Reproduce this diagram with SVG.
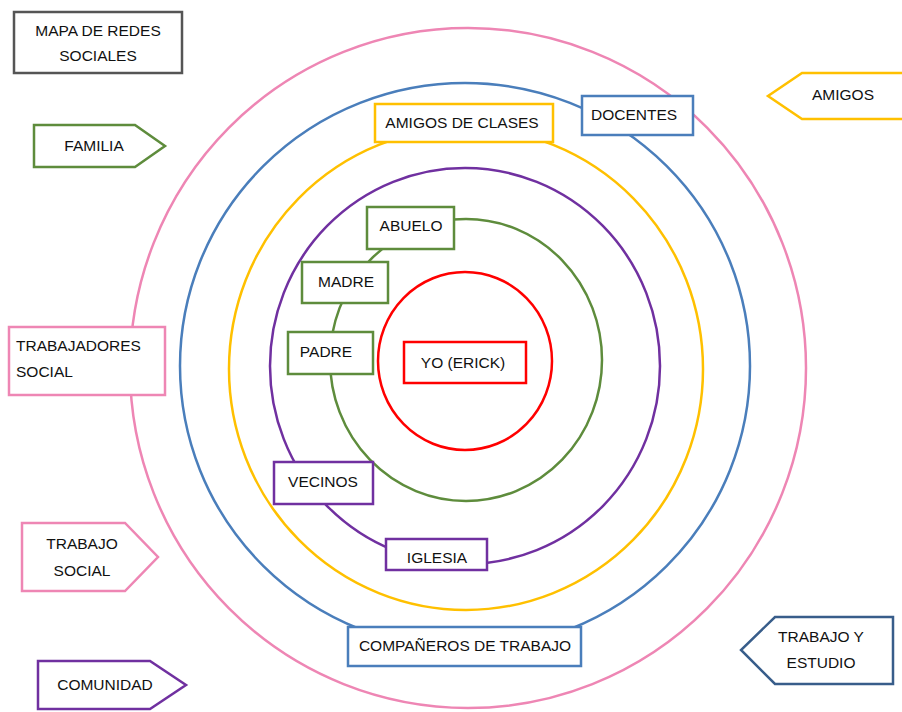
<svg xmlns="http://www.w3.org/2000/svg" width="902" height="712" viewBox="0 0 902 712">
<style>
text{font-family:"Liberation Sans",Arial,sans-serif;font-size:15.5px;fill:#111;text-anchor:middle}
.b{fill:#fff;stroke-width:2.5}
.c{fill:none;stroke-width:2.5}
.pk{stroke:#EE86B4}.bl{stroke:#4A7EBB}.yl{stroke:#FFC000}.pu{stroke:#7030A0}.gr{stroke:#5E8C3C}.rd{stroke:#FF0000}.gy{stroke:#555}.db{stroke:#385D8A}
</style>
<rect width="902" height="712" fill="#fff"/>
<g id="connectors">
<ellipse class="c pk" cx="468" cy="368" rx="338" ry="340"/>
<ellipse class="c bl" cx="465" cy="366" rx="285" ry="283"/>
<ellipse class="c yl" cx="466" cy="369" rx="237" ry="241"/>
<ellipse class="c pu" cx="465" cy="366" rx="195" ry="198"/>
<ellipse class="c gr" cx="466" cy="360" rx="136" ry="141"/>
<ellipse class="c rd" cx="465" cy="361" rx="87" ry="89"/>
</g>
<g id="mapa"><rect class="b gy" x="14" y="12" width="168" height="61"/><text x="98" y="36">MAPA DE REDES</text><text x="98" y="61">SOCIALES</text></g>
<g id="familia"><path class="b gr" d="M34 125H135L165 146L135 167H34Z"/><text x="94" y="151">FAMILIA</text></g>
<g id="amigos"><path class="b yl" d="M905 73H802L768 96L802 119H905"/><text x="843" y="100">AMIGOS</text></g>
<g id="docentes"><rect class="b bl" x="582" y="96" width="111" height="39"/><text x="634" y="120">DOCENTES</text></g>
<g id="amigos-clases"><rect class="b yl" x="375" y="104" width="178" height="38"/><text x="462" y="128">AMIGOS DE CLASES</text></g>
<g id="abuelo"><rect class="b gr" x="367" y="207" width="87" height="42"/><text x="411" y="231">ABUELO</text></g>
<g id="madre"><rect class="b gr" x="302" y="262" width="86" height="41"/><text x="346" y="287">MADRE</text></g>
<g id="padre"><rect class="b gr" x="288" y="332" width="85" height="42"/><text x="326" y="357">PADRE</text></g>
<g id="yo"><rect class="b rd" x="404" y="342" width="122" height="41"/><text x="463" y="368">YO (ERICK)</text></g>
<g id="trabajadores"><rect class="b pk" x="9" y="327" width="156" height="68"/><text x="16" y="351" style="text-anchor:start">TRABAJADORES</text><text x="16" y="377" style="text-anchor:start">SOCIAL</text></g>
<g id="vecinos"><rect class="b pu" x="274" y="462" width="99" height="42"/><text x="323" y="487">VECINOS</text></g>
<g id="iglesia"><rect class="b pu" x="386" y="539" width="101" height="31"/><text x="437" y="563">IGLESIA</text></g>
<g id="trabajo-social"><path class="b pk" d="M22 523H125L158 557L125 591H22Z"/><text x="82" y="549">TRABAJO</text><text x="82" y="576">SOCIAL</text></g>
<g id="companeros"><rect class="b bl" x="348" y="627" width="233" height="39"/><text x="465" y="651">COMPAÑEROS DE TRABAJO</text></g>
<g id="comunidad"><path class="b pu" d="M38 661H150L186 685L150 709H38Z"/><text x="105" y="690">COMUNIDAD</text></g>
<g id="trabajo-estudio"><path class="b db" d="M893 617H775L741 650L775 684H893Z"/><text x="821" y="642">TRABAJO Y</text><text x="821" y="668">ESTUDIO</text></g>
</svg>
